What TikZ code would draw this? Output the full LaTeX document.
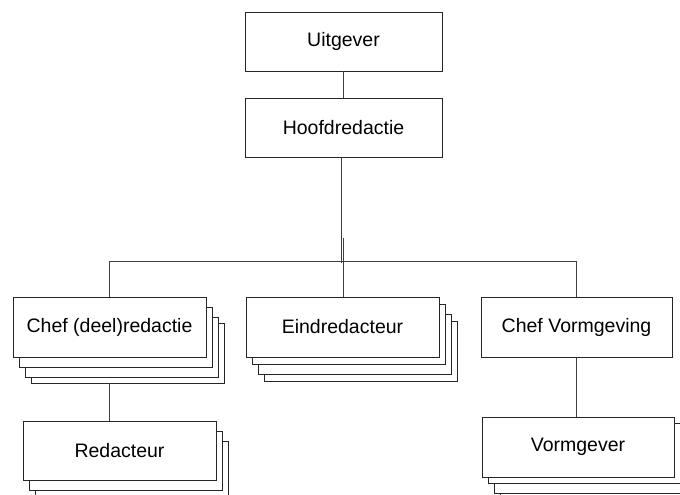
\documentclass[tikz,border=0pt]{standalone}
\usepackage{fontspec}
\setmainfont{Liberation Sans}
\begin{document}
\begin{tikzpicture}[x=1pt,y=-1pt,
  every node/.style={inner sep=0pt},
  box/.style={draw=black!85,line width=0.9pt,fill=white,minimum width=193pt,minimum height=60pt,font=\fontsize{19.5}{22}\selectfont},
  shad/.style={draw=black!85,line width=0.9pt,fill=white,minimum width=193pt,minimum height=60pt},
  conn/.style={draw=black!75,line width=0.9pt}]
\useasboundingbox (0,0) rectangle (680,495);
% Uitgever & Hoofdredactie
\node[box,minimum width=197pt,minimum height=59pt] (uit) at (343.5,41.5) {Uitgever};
\node[box,minimum width=197pt,minimum height=59pt] (hoofd) at (343.5,127.5) {Hoofdredactie};
\draw[conn] (uit.south) -- (hoofd.north);
% Chef (deel)redactie stack
\node[shad] (cd3) at (127.5,353) {};
\node[shad] (cd2) at (121.5,347) {};
\node[shad] (cd1) at (115.5,337) {};
\node[box] (chefdeel) at (109.5,327) {Chef (deel)redactie};
% Eindredacteur stack
\node[shad] (ei3) at (360.5,351) {};
\node[shad] (ei2) at (354.5,344) {};
\node[shad] (ei1) at (348.5,334) {};
\node[box] (eind) at (342.5,327) {Eindredacteur};
% Chef Vormgeving
\node[box,minimum width=191pt] (chefvorm) at (576.5,327) {Chef Vormgeving};
% Redacteur stack
\node[shad,minimum height=59pt] (re2) at (131.5,470.5) {};
\node[shad,minimum height=59pt] (re1) at (125.5,460.5) {};
\node[box,minimum height=59pt] (red) at (119.5,450.5) {Redacteur};
% Vormgever stack
\node[shad,minimum width=192pt] (vg3) at (596,473) {};
\node[shad,minimum width=192pt] (vg2) at (590,463) {};
\node[shad,minimum width=192pt] (vg1) at (584,453) {};
\node[box,minimum width=192pt] (vorm) at (578,447) {Vormgever};
% bus and junction
\coordinate (j1) at (341,263);
\coordinate (j2) at (343,238);
\coordinate (bus) at (343,261);
\draw[conn] (hoofd.south -| j1) -- (j1);
\draw[conn] (j2) -- (eind.north -| j2);
\draw[conn] (chefdeel.north) -- (chefdeel.north |- bus) -- (chefvorm.north |- bus) -- (chefvorm.north);
\draw[conn] (cd3.south -| chefdeel.south) -- (red.north -| chefdeel.south);
\draw[conn] (chefvorm.south) -- (vorm.north -| chefvorm.south);
\end{tikzpicture}
\end{document}
